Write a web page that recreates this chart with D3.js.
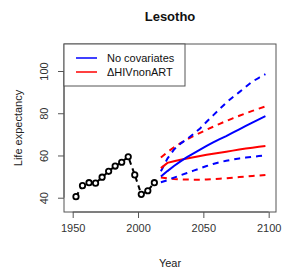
<!DOCTYPE html>
<html>
<head>
<meta charset="utf-8">
<script src="https://cdn.jsdelivr.net/npm/d3@7"></script>
<style>
  body { margin: 0; background: #fff; }
  text { font-family: "Liberation Sans", Arial, sans-serif; }
</style>
</head>
<body>
<div id="chart"></div>
<script>
// observed life expectancy (5-year periods)
const obsYears = [1952.5, 1957.5, 1962.5, 1967.5, 1972.5, 1977.5, 1982.5, 1987.5, 1992.5, 1997.5, 2002.5, 2007.5, 2012.5];
const obsValues = [40.5, 45.7, 47.1, 46.9, 49.7, 52.5, 55.0, 56.8, 59.4, 50.8, 41.6, 43.3, 47.1];

// projections
const projYears = [2017.5, 2022.5, 2027.5, 2032.5, 2037.5, 2042.5, 2047.5, 2052.5, 2057.5,
                   2062.5, 2067.5, 2072.5, 2077.5, 2082.5, 2087.5, 2092.5, 2097.5];
const blueMedian = [50.0, 52.6, 55.0, 57.2, 59.2, 61.0, 62.8, 64.5, 66.2, 67.7, 69.2, 70.8, 72.4, 74.0, 75.6, 77.1, 78.6];
const blueLower = [47.3, 48.3, 49.5, 50.6, 51.7, 52.8, 53.9, 55.0, 56.0, 56.8, 57.5, 58.1, 58.6, 59.0, 59.4, 59.7, 60.0];
const blueUpper = [52.5, 58.5, 62.8, 65.6, 67.8, 70.2, 72.8, 76.0, 79.0, 82.0, 85.0, 87.6, 90.0, 92.5, 95.0, 96.8, 98.5];
const redMedian = [54.0, 56.5, 57.3, 58.0, 58.6, 59.2, 59.8, 60.3, 60.8, 61.3, 61.8, 62.3, 62.8, 63.3, 63.7, 64.1, 64.5];
const redLower = [49.6, 49.2, 48.9, 48.7, 48.6, 48.5, 48.5, 48.6, 48.8, 49.0, 49.2, 49.5, 49.8, 50.0, 50.3, 50.5, 50.8];
const redUpper = [59.0, 61.6, 63.8, 65.8, 67.6, 69.2, 70.7, 72.2, 73.6, 75.0, 76.3, 77.6, 78.8, 80.0, 81.1, 82.2, 83.2];

const xTicks = [1950, 2000, 2050, 2100];
const yTicks = [40, 60, 80, 100];
const legendLabels = ["No covariates", "\u0394HIVnonART"];
const legendColors = ["#0000ff", "#ff0000"];

const width = 282, height = 275;
const box = { left: 64, right: 276, top: 44, bottom: 212 };

const svg = d3.select("#chart")
    .append("svg")
    .attr("width", width)
    .attr("height", height);

const x = d3.scaleLinear().domain([1943.34, 2105.6]).range([box.left, box.right]);
const y = d3.scaleLinear().domain([33.23, 112.79]).range([box.bottom, box.top]);

// title
svg.append("text")
    .attr("x", 170).attr("y", 21)
    .attr("text-anchor", "middle")
    .attr("font-size", "13px")
    .attr("font-weight", "bold")
    .attr("fill", "#111")
    .text("Lesotho");

// axes
const xAxis = d3.axisBottom(x).tickValues(xTicks).tickSize(6).tickPadding(6).tickFormat(d3.format("d"));
const gx = svg.append("g")
    .attr("transform", "translate(0," + box.bottom + ")")
    .call(xAxis);
gx.select(".domain").attr("d", "M" + x(1950) + ",0H" + x(2100));

const yAxis = d3.axisLeft(y).tickValues(yTicks).tickSize(6).tickFormat(d3.format("d"));
const gy = svg.append("g")
    .attr("transform", "translate(" + box.left + ",0)")
    .call(yAxis);
gy.select(".domain").attr("d", "M0," + y(40) + "V" + y(100));
gy.selectAll(".tick text")
    .attr("x", null).attr("dy", null)
    .attr("text-anchor", "middle")
    .attr("transform", "translate(-20,0) rotate(-90)")
    .attr("dy", "0.35em");

svg.selectAll(".tick line, .domain").attr("stroke", "#555");
svg.selectAll(".tick text")
    .attr("fill", "#333")
    .attr("font-size", "11px")
    .attr("font-family", "Liberation Sans, Arial, sans-serif");

// axis labels
svg.append("text")
    .attr("x", 170).attr("y", 267)
    .attr("text-anchor", "middle")
    .attr("font-size", "11px")
    .attr("fill", "#222")
    .text("Year");

svg.append("text")
    .attr("transform", "translate(22," + ((box.top + box.bottom) / 2) + ") rotate(-90)")
    .attr("text-anchor", "middle")
    .attr("font-size", "11px")
    .attr("fill", "#222")
    .text("Life expectancy");

// plot box
svg.append("rect")
    .attr("x", box.left).attr("y", box.top)
    .attr("width", box.right - box.left)
    .attr("height", box.bottom - box.top)
    .attr("fill", "none")
    .attr("stroke", "#555")
    .attr("stroke-width", 1);

const line = d3.line().x(d => x(d[0])).y(d => y(d[1]));

function drawSeries(vals, colour, dashed) {
    svg.append("path")
        .datum(projYears.map((yr, i) => [yr, vals[i]]))
        .attr("d", line)
        .attr("fill", "none")
        .attr("stroke", colour)
        .attr("stroke-width", 2)
        .attr("stroke-dasharray", dashed ? "6,5" : null);
}

drawSeries(redLower, "#ff0000", true);
drawSeries(redUpper, "#ff0000", true);
drawSeries(blueLower, "#0000ff", true);
drawSeries(blueUpper, "#0000ff", true);
drawSeries(redMedian, "#ff0000", false);
drawSeries(blueMedian, "#0000ff", false);

// observed
svg.append("path")
    .datum(obsYears.map((yr, i) => [yr, obsValues[i]]))
    .attr("d", line)
    .attr("fill", "none")
    .attr("stroke", "#000")
    .attr("stroke-width", 2)
    .attr("stroke-dasharray", "5,4");

svg.selectAll(".obs")
    .data(obsYears.map((yr, i) => [yr, obsValues[i]]))
    .enter()
    .append("circle")
    .attr("class", "obs")
    .attr("cx", d => x(d[0]))
    .attr("cy", d => y(d[1]))
    .attr("r", 2.7)
    .attr("fill", "#fff")
    .attr("stroke", "#000")
    .attr("stroke-width", 1.8);

// legend
const lg = svg.append("g");
lg.append("rect")
    .attr("x", box.left).attr("y", box.top)
    .attr("width", 121).attr("height", 42)
    .attr("fill", "#fff")
    .attr("stroke", "#555");

legendLabels.forEach((lab, i) => {
    const ly = 58 + i * 14;
    lg.append("line")
        .attr("x1", 76).attr("x2", 97)
        .attr("y1", ly).attr("y2", ly)
        .attr("stroke", legendColors[i])
        .attr("stroke-width", 1.5);
    lg.append("text")
        .attr("x", 107).attr("y", ly)
        .attr("dy", "0.35em")
        .attr("font-size", "11px")
        .attr("fill", "#111")
        .text(lab);
});
</script>
</body>
</html>
